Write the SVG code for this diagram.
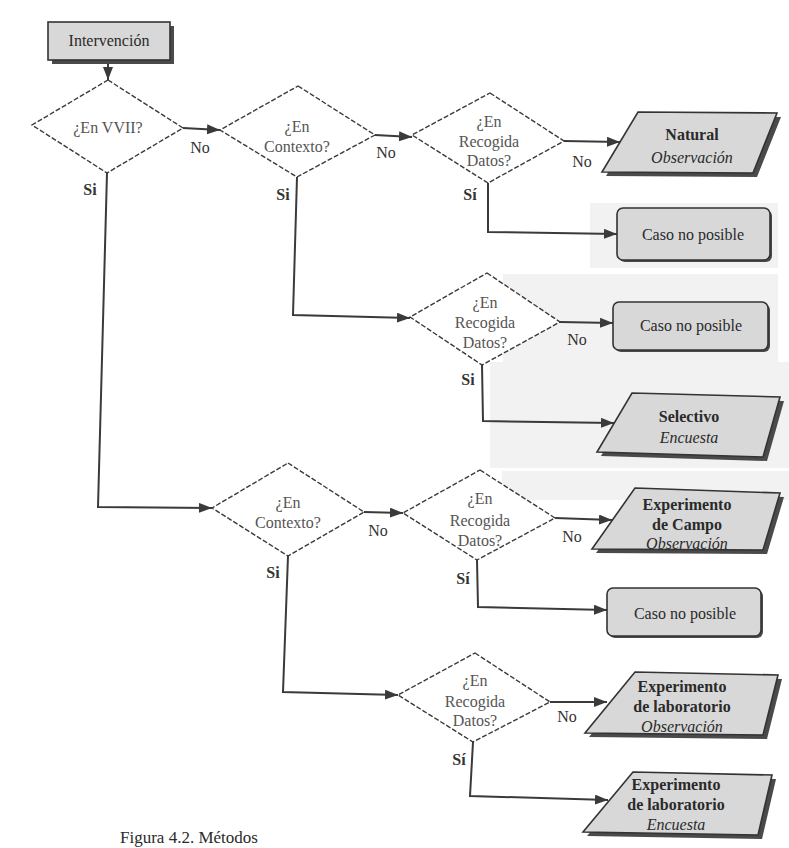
<svg xmlns="http://www.w3.org/2000/svg" width="789" height="848" viewBox="0 0 789 848">
<style>
text{font-family:"Liberation Serif","DejaVu Serif",serif;font-size:16px;text-anchor:middle;fill:#2a2a2a}
.q{fill:#555}
.lbl{fill:#333}
.b{font-weight:bold}
.n{font-weight:normal}
.i{font-style:italic}
.dia{fill:#fff;stroke:#3a3a3a;stroke-width:1.4;stroke-dasharray:5 2}
.box{fill:#d8d8d8;stroke:#333;stroke-width:1.6}
.sh{fill:#4a4a4a}
.con{fill:none;stroke:#3a3a3a;stroke-width:2;marker-end:url(#ah)}
.bg{fill:#f2f2f2}
</style>
<defs>
<marker id="ah" markerUnits="userSpaceOnUse" markerWidth="14" markerHeight="12" refX="13" refY="5" orient="auto">
<path d="M0,0 L13,5 L0,10 z" fill="#3a3a3a"/>
</marker>
</defs>
<rect width="789" height="848" fill="#fff"/>
<g id="scan-bg">
<rect class="bg" x="590" y="203" width="188" height="65"/>
<rect class="bg" x="503" y="274" width="275" height="88"/>
<rect class="bg" x="490" y="362" width="299" height="106"/>
<rect class="bg" x="502" y="471" width="287" height="29"/>
</g>
<g id="connectors">
<path class="con" d="M108,64 L108,80"/>
<path class="con" d="M183,128 L220,130"/>
<path class="con" d="M375,135 L412,137"/>
<path class="con" d="M564,141 L620,142"/>
<path class="con" d="M488,183 L488,232 L617,234"/>
<path class="con" d="M297,177 L293,315 L410,318"/>
<path class="con" d="M560,322 L613,323"/>
<path class="con" d="M482,365 L483,421 L614,423"/>
<path class="con" d="M107,173 L98,507 L212,508"/>
<path class="con" d="M364,512 L403,513"/>
<path class="con" d="M555,518 L612,520"/>
<path class="con" d="M477,560 L478,607 L607,610"/>
<path class="con" d="M288,556 L283,692 L398,695"/>
<path class="con" d="M550,702 L607,702"/>
<path class="con" d="M473,742 L470,796 L608,800"/>
</g>
<g id="labels">
<text class="lbl" x="200" y="153">No</text>
<text class="lbl b" x="90" y="195">Si</text>
<text class="lbl" x="386" y="158">No</text>
<text class="lbl b" x="283" y="200">Si</text>
<text class="lbl" x="582" y="167">No</text>
<text class="lbl b" x="470" y="200">Sí</text>
<text class="lbl" x="577" y="345">No</text>
<text class="lbl b" x="468" y="385">Si</text>
<text class="lbl" x="378" y="536">No</text>
<text class="lbl b" x="273" y="578">Si</text>
<text class="lbl" x="572" y="542">No</text>
<text class="lbl b" x="463" y="584">Sí</text>
<text class="lbl" x="567" y="722">No</text>
<text class="lbl b" x="459" y="765">Sí</text>
</g>
<g id="n-intervencion">
<rect class="sh" x="52" y="26" width="122" height="38"/>
<rect class="box" x="48" y="22" width="122" height="38"/>
<text x="109" y="46">Intervención</text>
</g>
<g id="d-vvii">
<polygon class="dia" points="108,80 183,128 107,173 32,125"/>
<text class="q" x="108" y="133">¿En VVII?</text>
</g>
<g id="d-contexto-1">
<polygon class="dia" points="298,86 375,135 297,177 220,130"/>
<text class="q" x="297" y="132">¿En</text>
<text class="q" x="297" y="152">Contexto?</text>
</g>
<g id="d-recogida-1">
<polygon class="dia" points="490,93 564,141 488,183 412,135"/>
<text class="q" x="489" y="127">¿En</text>
<text class="q" x="489" y="147">Recogida</text>
<text class="q" x="489" y="166">Datos?</text>
</g>
<g id="n-natural">
<polygon class="sh" points="642,116 781,117 757,177 606,176"/>
<polygon class="box" points="638,112 777,113 753,173 602,172"/>
<text class="b" x="692" y="140">Natural</text>
<text class="i" x="692" y="163">Observación</text>
</g>
<g id="n-caso-1">
<rect class="sh" x="619" y="210" width="153" height="52" rx="6"/>
<rect class="box" x="617" y="208" width="153" height="52" rx="6"/>
<text x="693" y="240">Caso no posible</text>
</g>
<g id="d-recogida-2">
<polygon class="dia" points="487,273 560,322 482,365 410,317"/>
<text class="q" x="485" y="308">¿En</text>
<text class="q" x="485" y="328">Recogida</text>
<text class="q" x="485" y="348">Datos?</text>
</g>
<g id="n-caso-2">
<rect class="sh" x="615" y="304" width="155" height="48" rx="6"/>
<rect class="box" x="613" y="302" width="155" height="48" rx="6"/>
<text x="691" y="331">Caso no posible</text>
</g>
<g id="n-selectivo">
<polygon class="sh" points="636,397 784,401 767,461 601,456"/>
<polygon class="box" points="632,393 780,397 763,457 597,452"/>
<text class="b" x="689" y="422">Selectivo</text>
<text class="i" x="689" y="443">Encuesta</text>
</g>
<g id="d-contexto-2">
<polygon class="dia" points="288,463 364,512 288,556 212,508"/>
<text class="q" x="288" y="508">¿En</text>
<text class="q" x="288" y="528">Contexto?</text>
</g>
<g id="d-recogida-3">
<polygon class="dia" points="480,470 555,518 477,560 403,513"/>
<text class="q" x="480" y="504">¿En</text>
<text class="q" x="480" y="526">Recogida</text>
<text class="q" x="480" y="546">Datos?</text>
</g>
<g id="n-campo">
<polygon class="sh" points="639,492 784,497 767,554 596,553"/>
<polygon class="box" points="635,488 780,493 763,550 592,549"/>
<text class="b" x="687" y="510">Experimento</text>
<text class="b" x="687" y="530">de Campo</text>
<text class="i" x="687" y="549">Observación</text>
</g>
<g id="n-caso-3">
<rect class="sh" x="609" y="590" width="154" height="48" rx="6"/>
<rect class="box" x="607" y="588" width="154" height="48" rx="6"/>
<text x="685" y="619">Caso no posible</text>
</g>
<g id="d-recogida-4">
<polygon class="dia" points="475,653 550,702 473,742 398,695"/>
<text class="q" x="475" y="686">¿En</text>
<text class="q" x="475" y="707">Recogida</text>
<text class="q" x="475" y="726">Datos?</text>
</g>
<g id="n-lab-obs">
<polygon class="sh" points="639,676 782,679 767,739 589,737"/>
<polygon class="box" points="635,672 778,675 763,735 585,733"/>
<text class="b" x="682" y="692">Experimento</text>
<text class="b" x="682" y="712">de laboratorio</text>
<text class="i" x="682" y="732">Observación</text>
</g>
<g id="n-lab-enc">
<polygon class="sh" points="637,776 776,779 762,839 587,836"/>
<polygon class="box" points="633,772 772,775 758,835 583,832"/>
<text class="b" x="676" y="790">Experimento</text>
<text class="b" x="676" y="810">de laboratorio</text>
<text class="i" x="676" y="830">Encuesta</text>
</g>
<g id="caption">
<text x="120" y="843" style="text-anchor:start;font-size:17px">Figura 4.2. Métodos</text>
</g>
</svg>
